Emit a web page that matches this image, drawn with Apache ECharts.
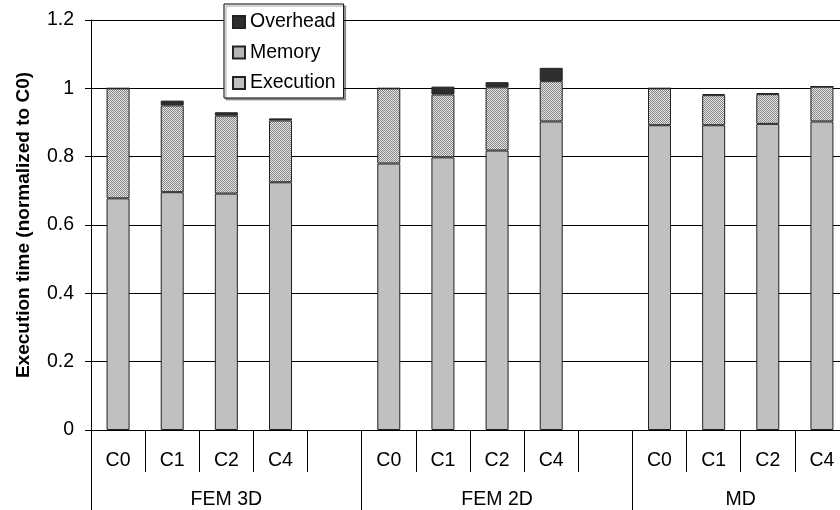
<!DOCTYPE html>
<html>
<head>
<meta charset="utf-8">
<script src="https://cdn.jsdelivr.net/npm/echarts@6/dist/echarts.min.js"></script>
<style>
html,body{margin:0;padding:0;background:#fff;}
#chart{width:840px;height:510px;}
</style>
</head>
<body>
<div id="chart"></div>
<script>
// ---- data ----
const groups = ['FEM 3D', 'FEM 2D', 'MD'];
const configs = ['C0', 'C1', 'C2', 'C4', '', 'C0', 'C1', 'C2', 'C4', '', 'C0', 'C1', 'C2', 'C4'];
const execution = [0.678, 0.696, 0.692, 0.725, '-', 0.780, 0.798, 0.818, 0.903, '-', 0.892, 0.892, 0.896, 0.903];
const memory    = [0.322, 0.254, 0.228, 0.181, '-', 0.220, 0.184, 0.185, 0.118, '-', 0.108, 0.088, 0.087, 0.102];
const overhead  = [0,     0.014, 0.010, 0.006, '-', 0,     0.023, 0.015, 0.039, '-', 0,     0.003, 0.003, 0];
const yTicks = [0, 0.2, 0.4, 0.6, 0.8, 1, 1.2];
// group label positions on the slot scale (centre of each group span)
const groupLabelPos = [2.5, 7.5, 12];

const catIds = configs.map((c, i) => i + '|' + c);
const FONT = "'Liberation Sans', Arial, sans-serif";

// dotted pattern for "Memory"
const cv = document.createElement('canvas');
cv.width = 4; cv.height = 4;
const ctx = cv.getContext('2d');
ctx.fillStyle = '#e6e6e6';
ctx.fillRect(0, 0, 4, 4);
ctx.fillStyle = '#858585';
for (let y = 0; y < 4; y++) for (let x = 0; x < 4; x++) if ((x + y) % 2 === 0) ctx.fillRect(x, y, 1, 1);
const memPattern = { image: cv, repeat: 'repeat' };

const chart = echarts.init(document.getElementById('chart'), null, { renderer: 'canvas' });
const barStyle = (color) => ({ color: color, borderColor: '#222', borderWidth: 1 });

chart.setOption({
  animation: false,
  backgroundColor: '#fff',
  textStyle: { fontFamily: FONT },
  grid: { left: 91, top: 20, width: 758, height: 410, outerBoundsMode: 'none', containLabel: false },
  legend: {
    orient: 'vertical',
    left: 224, top: 4,
    data: ['Overhead', 'Memory', 'Execution'],
    backgroundColor: '#fff',
    borderColor: '#000', borderWidth: 1,
    shadowColor: 'rgba(0,0,0,0.35)', shadowOffsetX: 2, shadowOffsetY: 2, shadowBlur: 0,
    padding: [8, 8, 5, 8],
    itemGap: 10.5,
    itemWidth: 12, itemHeight: 12, itemTextGap: 5,
    icon: 'rect',
    textStyle: { fontSize: 19.5, color: '#000', fontFamily: FONT }
  },
  xAxis: [
    {
      type: 'category', data: catIds, position: 'bottom',
      axisLine: { show: true, lineStyle: { color: '#000', width: 1 } },
      axisTick: { show: true, interval: 0, length: 42, lineStyle: { color: '#000' } },
      axisLabel: { interval: 0, margin: 21, fontSize: 19.5, color: '#000', fontFamily: FONT,
                   formatter: v => v.split('|')[1] },
      splitLine: { show: false }
    },
    {
      type: 'category', data: catIds, position: 'bottom',
      axisLine: { show: false },
      axisTick: { show: true, length: 80, interval: (i) => i % 5 === 0, lineStyle: { color: '#000' } },
      axisLabel: { show: false },
      splitLine: { show: false }
    },
    {
      type: 'value', min: 0, max: 14, interval: 0.5, position: 'bottom',
      axisLine: { show: false }, axisTick: { show: false }, splitLine: { show: false },
      axisLabel: {
        show: true, margin: 60, fontSize: 19.5, color: '#000', fontFamily: FONT,
        showMinLabel: true, showMaxLabel: true,
        formatter: v => { const k = groupLabelPos.indexOf(v); return k >= 0 ? groups[k] : ''; }
      }
    }
  ],
  yAxis: {
    type: 'value', min: yTicks[0], max: yTicks[yTicks.length - 1], interval: 0.2,
    name: 'Execution time (normalized to C0)',
    nameLocation: 'middle', nameGap: 58,
    nameTextStyle: { fontSize: 19, fontWeight: 'bold', color: '#000', fontFamily: FONT },
    axisLine: { show: true, lineStyle: { color: '#000' } },
    axisTick: { show: true, length: 6, lineStyle: { color: '#000' } },
    axisLabel: { margin: 17, fontSize: 19.5, color: '#000', fontFamily: FONT },
    splitLine: { show: true, lineStyle: { color: '#000', width: 1 } }
  },
  series: [
    { name: 'Execution', type: 'bar', stack: 't', barWidth: 23, data: execution, itemStyle: barStyle('#c0c0c0') },
    { name: 'Memory', type: 'bar', stack: 't', barWidth: 23, data: memory, itemStyle: barStyle(memPattern) },
    { name: 'Overhead', type: 'bar', stack: 't', barWidth: 23, data: overhead, itemStyle: barStyle('#2e2e2e') }
  ]
});
</script>
</body>
</html>
